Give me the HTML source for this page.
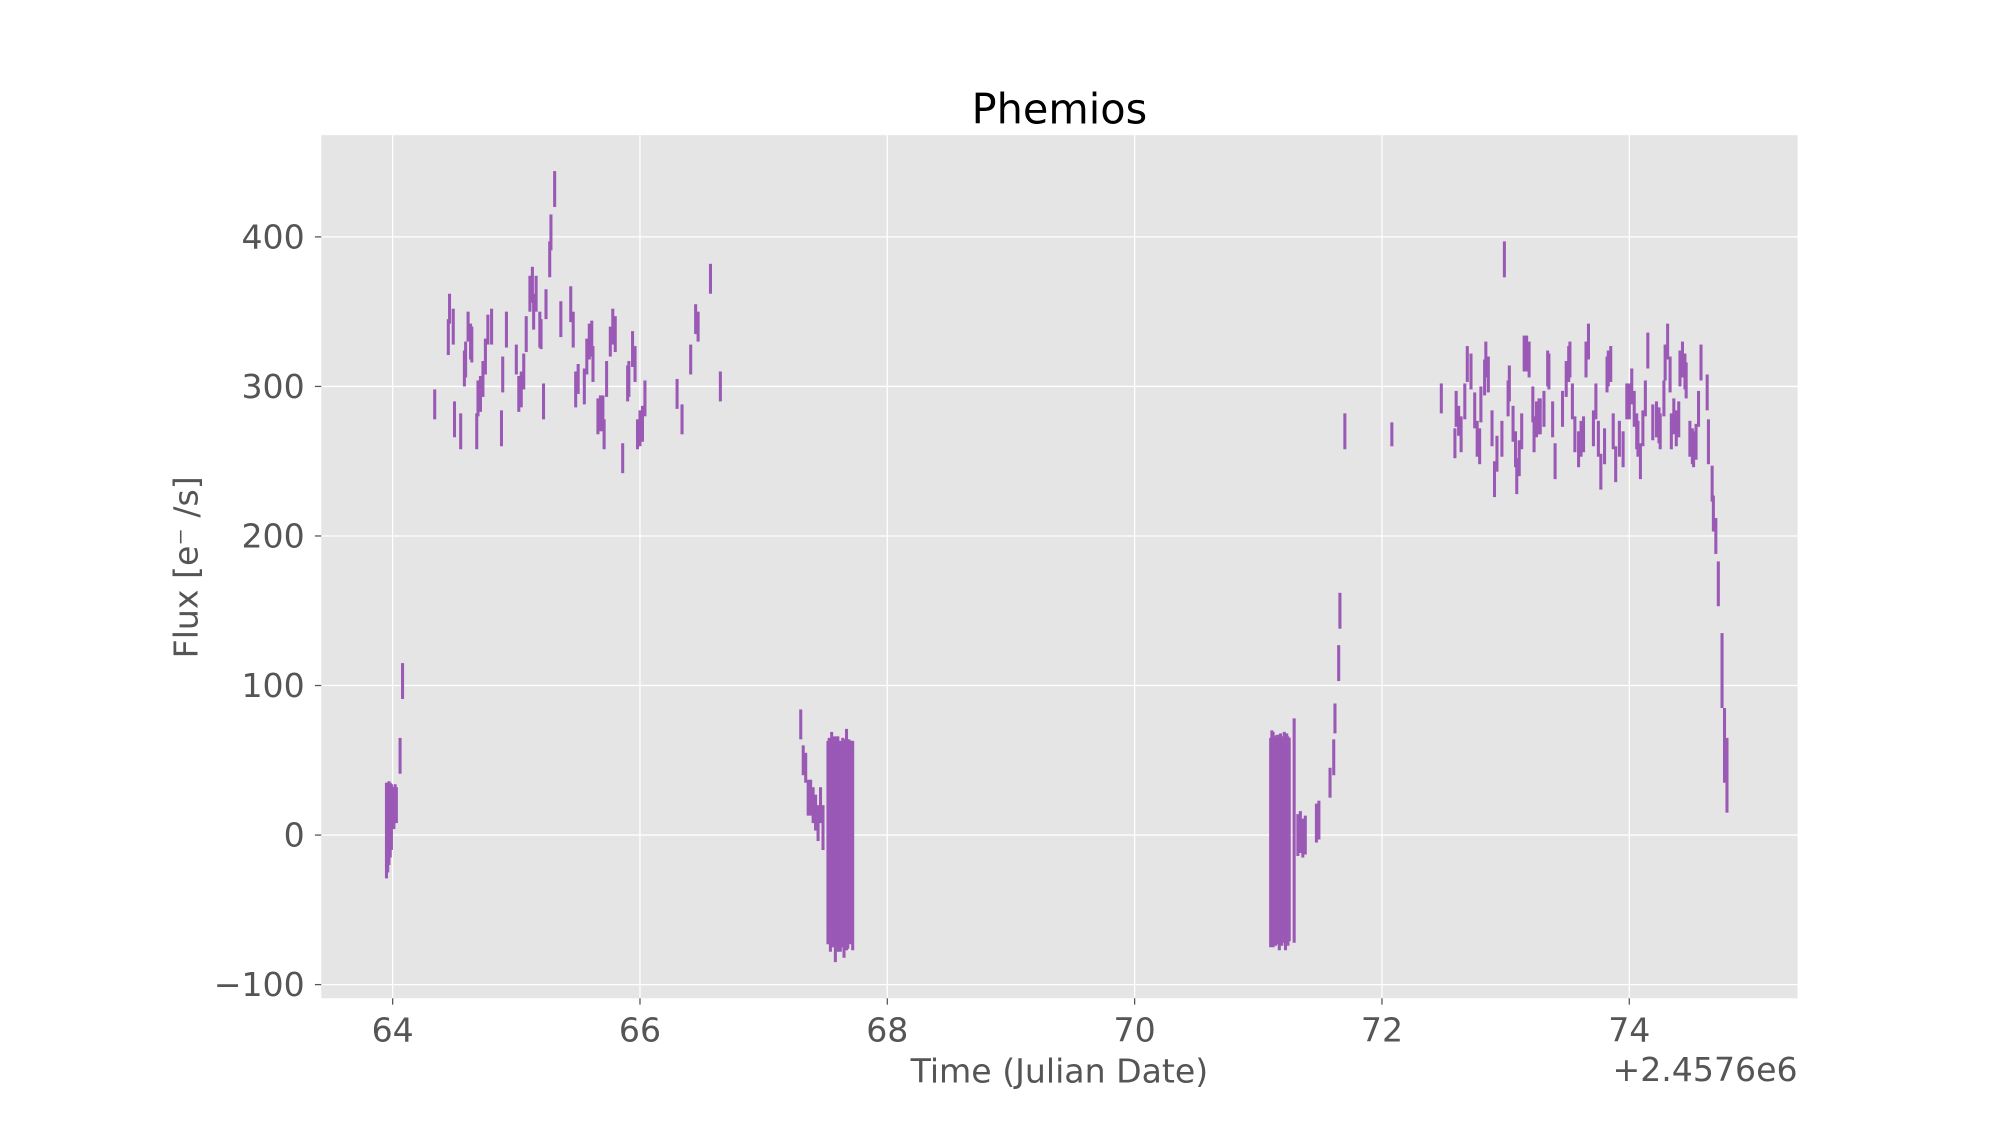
<!DOCTYPE html>
<html><head><meta charset="utf-8"><style>
html,body{margin:0;padding:0;background:#fff;}
svg{display:block;}
text{font-family:"DejaVu Sans","Liberation Sans",sans-serif;}
</style></head><body>
<svg id="chart" width="1999" height="1125" viewBox="0 0 1568 882.4" xmlns="http://www.w3.org/2000/svg">
<rect x="252" y="106" width="1158" height="677" fill="#e5e5e5"/>
<g id="grid"></g>
<g id="marks"></g>
<g id="axes"></g>
<text x="831" y="97" text-anchor="middle" font-size="32.5" fill="#000">Phemios</text>
<text x="831" y="849" text-anchor="middle" font-size="26" fill="#555">Time (Julian Date)</text>
<text transform="translate(155,445) rotate(-90)" text-anchor="middle" font-size="26" fill="#555">Flux [e⁻ /s]</text>
<text x="1410" y="848" text-anchor="end" font-size="26" fill="#555">+2.4576e6</text>
</svg>
<script>
const xTicks = [64, 66, 68, 70, 72, 74];
const yTicks = [-100, 0, 100, 200, 300, 400];
const yTickLabels = ["\u2212100", "0", "100", "200", "300", "400"];
const times = [63.95,63.96,63.97,63.98,63.99,64.0,64.01,64.02,64.03,64.06,64.08,
64.34,64.45,64.46,64.49,64.5,64.55,64.58,64.59,64.61,64.63,64.64,64.68,64.69,64.71,64.73,64.75,64.77,64.8,64.88,64.89,64.92,65.0,65.02,65.04,65.06,65.08,65.11,65.13,65.14,65.16,65.19,65.2,65.22,65.24,65.27,65.28,65.31,65.36,65.44,65.46,65.48,65.5,65.55,65.57,65.59,65.61,65.62,65.66,65.68,65.7,65.71,65.73,65.76,65.78,65.8,65.86,65.9,65.91,65.94,65.96,65.98,66.0,66.02,66.04,66.3,66.34,66.41,66.45,66.47,66.57,66.65,
67.3,67.32,67.34,67.36,67.38,67.4,67.42,67.44,67.46,67.48,
67.52,67.53,67.54,67.55,67.56,67.57,67.58,67.59,67.6,67.61,67.62,67.63,67.64,67.65,67.66,67.67,67.68,67.69,67.7,67.71,67.72,
71.1,71.11,71.12,71.13,71.14,71.15,71.16,71.17,71.18,71.19,71.2,71.21,71.22,71.23,71.24,71.25,71.29,
71.32,71.34,71.36,71.38,71.47,71.49,71.58,71.61,71.62,71.65,71.66,71.7,72.08,
72.48,72.59,72.6,72.62,72.64,72.67,72.69,72.72,72.75,72.77,72.79,72.8,72.83,72.84,72.86,72.89,72.91,72.93,72.97,72.99,73.02,73.03,73.06,73.08,73.09,73.11,73.13,73.15,73.17,73.19,73.22,73.23,73.25,73.27,73.28,73.31,73.34,73.35,73.38,73.4,73.46,73.49,73.51,73.52,73.54,73.56,73.59,73.61,73.63,73.65,73.67,73.71,73.73,73.75,73.77,73.8,73.82,73.83,73.85,73.87,73.89,73.92,73.95,73.98,74.0,74.02,74.04,74.06,74.07,74.09,74.11,74.13,74.15,74.19,74.22,74.24,74.25,74.28,74.29,74.31,74.33,74.34,74.36,74.38,74.4,74.41,74.43,74.45,74.46,74.49,74.51,74.52,74.54,74.56,74.58,74.63,74.64,74.67,74.68,74.7,74.72,74.75,74.77,74.79,74.82];
const flux = [3,5,8,10,12,20,18,22,20,53,103,
288,333,352,340,278,270,312,318,340,330,328,270,292,295,305,320,338,340,272,308,338,318,295,298,310,335,362,368,350,362,338,335,290,355,385,403,432,345,355,338,298,305,300,320,330,332,315,280,282,282,268,305,330,340,335,252,302,305,325,315,268,272,275,292,295,278,318,345,340,372,300,
74,50,45,25,25,20,15,8,20,5,
-5,0,-8,-3,-5,-2,-10,-4,-6,-3,-8,-2,-5,-10,-4,-3,-6,-2,-5,-4,-7,
-5,0,-3,-2,-4,-1,-3,-5,-2,-4,-3,-1,-5,-2,-4,-3,3,
0,2,-2,0,8,10,35,52,78,115,150,270,268,
292,262,285,277,268,290,315,310,284,265,260,288,306,318,308,272,238,255,265,385,292,302,275,258,240,252,270,322,322,318,288,268,278,280,280,285,312,310,278,250,285,305,315,318,290,268,258,265,268,318,330,272,290,265,243,260,308,312,315,270,248,265,258,290,290,300,285,270,265,250,272,292,324,276,278,274,270,292,316,330,308,270,280,272,278,312,318,310,304,265,260,258,263,285,316,296,263,235,215,200,168,110,60,40,20];
const errs = [32,30,28,25,22,12,14,12,12,12,12,
10,12,10,12,12,12,12,12,10,12,12,12,12,12,12,12,10,12,12,12,12,10,12,12,12,12,12,12,12,12,12,10,12,10,12,12,12,12,12,12,12,10,12,12,12,12,12,12,12,12,10,12,10,12,12,10,12,12,12,12,10,12,12,12,10,10,10,10,10,10,10,
10,10,10,12,12,12,12,12,12,15,
68,65,70,72,70,68,75,70,72,66,70,65,70,72,68,74,70,66,68,67,70,
70,70,72,68,70,68,70,72,70,70,69,70,72,70,70,68,75,
14,14,13,13,13,13,10,12,10,12,12,12,8,
10,10,12,10,12,12,12,12,12,12,12,12,12,12,12,12,12,12,12,12,12,12,12,12,12,12,12,12,12,12,12,12,12,12,12,12,12,12,12,12,12,12,12,12,12,12,12,12,12,12,12,12,12,12,12,12,12,12,12,12,12,12,12,12,12,12,12,12,12,12,12,12,12,12,12,12,12,12,12,12,12,12,12,12,12,12,12,12,12,12,12,12,12,12,12,12,15,12,12,12,15,25,25,25];
const NS = "http://www.w3.org/2000/svg";
function xs(v){ return 308 + (v - 64) * 97; }
function ys(v){ return 655 - v * 1.173; }
const grid = document.getElementById('grid');
const axes = document.getElementById('axes');
const marks = document.getElementById('marks');
xTicks.forEach(function(t){
  const l = document.createElementNS(NS,'line');
  
  
  l.setAttribute('x1', xs(t)); l.setAttribute('x2', xs(t));
  l.setAttribute('y1', 106); l.setAttribute('y2', 783);
  l.setAttribute('stroke', '#fff'); l.setAttribute('stroke-width', '1');
  grid.appendChild(l);
  const tk = document.createElementNS(NS,'line');
  
  
  tk.setAttribute('x1', xs(t)); tk.setAttribute('x2', xs(t));
  tk.setAttribute('y1', 783); tk.setAttribute('y2', 788);
  tk.setAttribute('stroke', '#555'); tk.setAttribute('stroke-width', '1');
  axes.appendChild(tk);
  const tx = document.createElementNS(NS,'text');
  
  
  tx.setAttribute('x', xs(t)); tx.setAttribute('y', 817);
  tx.setAttribute('text-anchor', 'middle'); tx.setAttribute('font-size', '26'); tx.setAttribute('fill', '#555');
  tx.textContent = String(t);
  axes.appendChild(tx);
});
yTicks.forEach(function(t, i){
  const l = document.createElementNS(NS,'line');
  
  
  l.setAttribute('x1', 252); l.setAttribute('x2', 1410);
  l.setAttribute('y1', ys(t)); l.setAttribute('y2', ys(t));
  l.setAttribute('stroke', '#fff'); l.setAttribute('stroke-width', '1');
  grid.appendChild(l);
  const tk = document.createElementNS(NS,'line');
  
  
  tk.setAttribute('x1', 247); tk.setAttribute('x2', 252);
  tk.setAttribute('y1', ys(t)); tk.setAttribute('y2', ys(t));
  tk.setAttribute('stroke', '#555'); tk.setAttribute('stroke-width', '1');
  axes.appendChild(tk);
  const tx = document.createElementNS(NS,'text');
  
  
  tx.setAttribute('x', 239); tx.setAttribute('y', ys(t) + 9);
  tx.setAttribute('text-anchor', 'end'); tx.setAttribute('font-size', '26'); tx.setAttribute('fill', '#555');
  tx.textContent = yTickLabels[i];
  axes.appendChild(tx);
});
times.forEach(function(t, i){
  const l = document.createElementNS(NS,'line');
  
  
  l.setAttribute('x1', xs(t)); l.setAttribute('x2', xs(t));
  l.setAttribute('y1', ys(flux[i] - errs[i])); l.setAttribute('y2', ys(flux[i] + errs[i]));
  l.setAttribute('stroke', '#9b59b6'); l.setAttribute('stroke-width', '2.4');
  marks.appendChild(l);
});
</script>
</body></html>
